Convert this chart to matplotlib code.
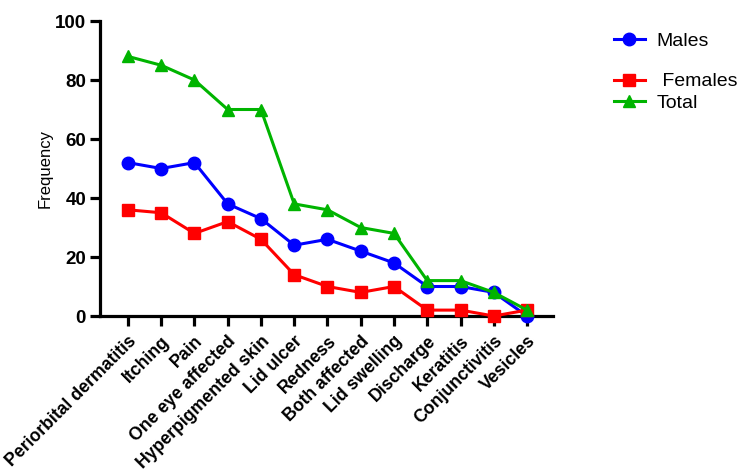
import numpy as np
import matplotlib as mpl
mpl.use('Agg')
import matplotlib.pyplot as plt

plt.rcParams['font.family'] = ['Liberation Sans', 'DejaVu Sans']

symptoms = ['Periorbital dermatitis', 'Itching', 'Pain', 'One eye affected',
            'Hyperpigmented skin', 'Lid ulcer', 'Redness', 'Both affected',
            'Lid swelling', 'Discharge', 'Keratitis', 'Conjunctivitis', 'Vesicles']
males = [52, 50, 52, 38, 33, 24, 26, 22, 18, 10, 10, 8, 0]
females = [36, 35, 28, 32, 26, 14, 10, 8, 10, 2, 2, 0, 2]
total = [88, 85, 80, 70, 70, 38, 36, 30, 28, 12, 12, 8, 2]

x = np.arange(len(symptoms))

fig = plt.figure(figsize=(7.5, 4.72), dpi=100)
ax = fig.add_axes([0.1333, 0.3305, 0.604, 0.625])

l1, = ax.plot(x, males, color='#0000ff', marker='o', ms=9, lw=2.2, label='Males', clip_on=False, zorder=3)
l2, = ax.plot(x, females, color='#ff0000', marker='s', ms=9, lw=2.2, label=' Females', clip_on=False, zorder=3)
l3, = ax.plot(x, total, color='#00b400', marker='^', ms=9, lw=2.2, label='Total', clip_on=False, zorder=4)

ax.set_xlim(-0.84, 12.78)
ax.set_ylim(0, 100)
ax.set_yticks([0, 20, 40, 60, 80, 100])
ax.set_xticks(x)
ax.set_xticklabels(symptoms, rotation=45, ha='right', rotation_mode='anchor',
                   fontsize=12.7, fontweight='bold')
for t in ax.get_yticklabels():
    t.set_fontsize(13.5)
    t.set_fontweight('bold')
ax.set_ylabel('Frequency', fontsize=12, labelpad=2)

for s in ['top', 'right']:
    ax.spines[s].set_visible(False)
for s in ['left', 'bottom']:
    ax.spines[s].set_linewidth(2.3)
ax.tick_params(axis='both', length=7, width=2.3, direction='out', pad=3)
ax.tick_params(axis='x', pad=5)

# two legends so the gap under "Males" is wider, as in the original
fig.legend(handles=[l1], loc='upper left', bbox_to_anchor=(0.795, 0.968),
           frameon=False, fontsize=14, handlelength=1.6, handletextpad=0.6)
fig.legend(handles=[l2, l3], loc='upper left', bbox_to_anchor=(0.795, 0.883),
           frameon=False, fontsize=14, handlelength=1.6, labelspacing=0.2, handletextpad=0.6)

fig.savefig('out.png', dpi=100)
